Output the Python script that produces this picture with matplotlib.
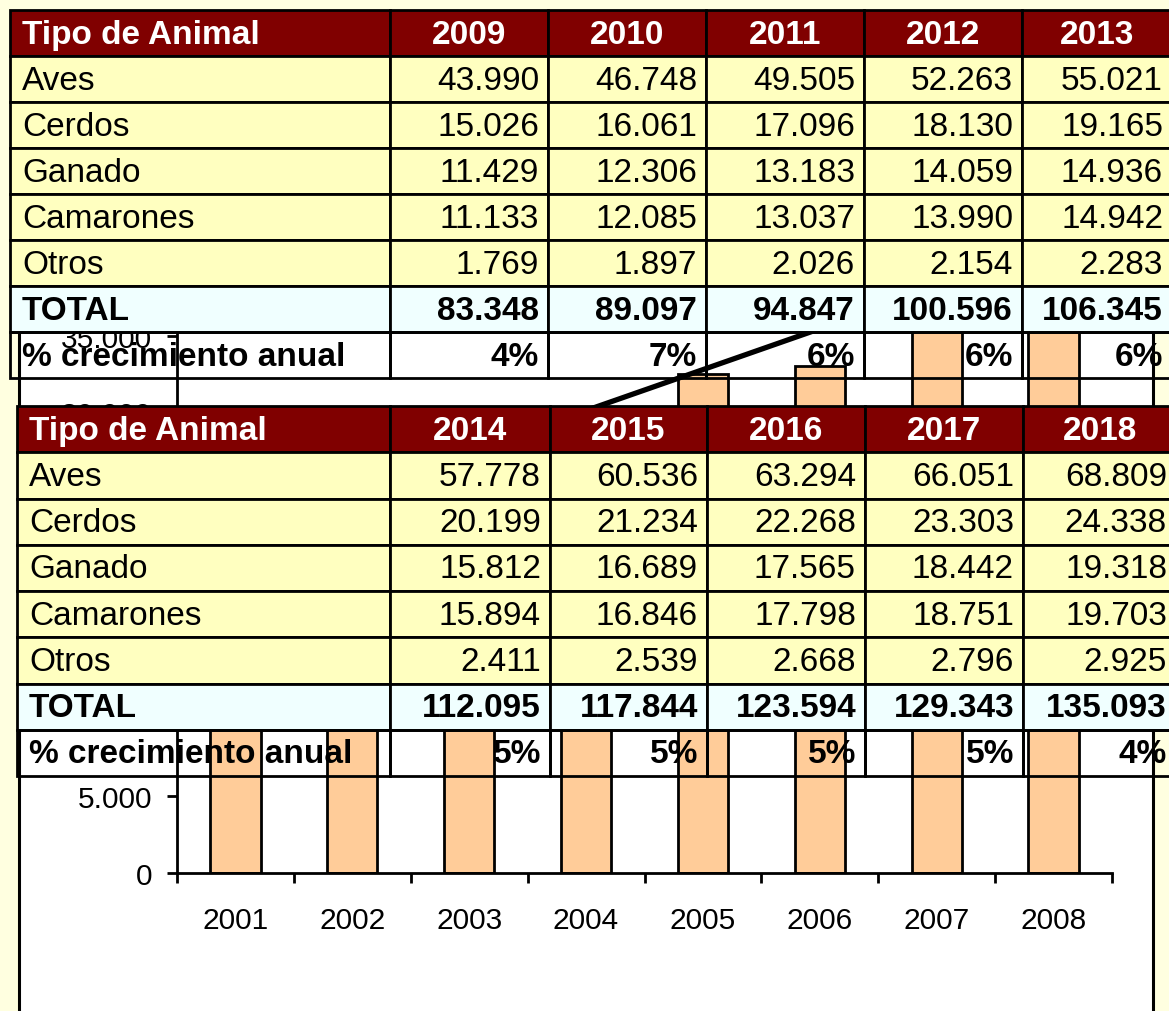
import numpy as np
import matplotlib
matplotlib.use('Agg')
import matplotlib.pyplot as plt
from matplotlib.patches import Rectangle
from matplotlib.ticker import FuncFormatter

plt.rcParams['font.family'] = ['Liberation Sans', 'DejaVu Sans']

# --- chart data (the bars are mostly hidden behind the two tables) ---
years = ['2001', '2002', '2003', '2004', '2005', '2006', '2007', '2008']
produccion = [24700, 25600, 26500, 27400, 32500, 33000, 37000, 45000]

# --- table data ---
animales = ['Aves', 'Cerdos', 'Ganado', 'Camarones', 'Otros']

anios_1 = ['2009', '2010', '2011', '2012', '2013']
aves_1 = [43990, 46748, 49505, 52263, 55021]
cerdos_1 = [15026, 16061, 17096, 18130, 19165]
ganado_1 = [11429, 12306, 13183, 14059, 14936]
camarones_1 = [11133, 12085, 13037, 13990, 14942]
otros_1 = [1769, 1897, 2026, 2154, 2283]
total_1 = [83348, 89097, 94847, 100596, 106345]
crec_1 = [4, 7, 6, 6, 6]

anios_2 = ['2014', '2015', '2016', '2017', '2018']
aves_2 = [57778, 60536, 63294, 66051, 68809]
cerdos_2 = [20199, 21234, 22268, 23303, 24338]
ganado_2 = [15812, 16689, 17565, 18442, 19318]
camarones_2 = [15894, 16846, 17798, 18751, 19703]
otros_2 = [2411, 2539, 2668, 2796, 2925]
total_2 = [112095, 117844, 123594, 129343, 135093]
crec_2 = [5, 5, 5, 5, 4]

W, H = 1169, 1012
BG = '#FFFFE0'
HEAD = '#800000'
ROW = '#FFFFC0'
TOT = '#F0FFFF'
FS = 24


def miles(v, pos=None):
    return f'{v:,.0f}'.replace(',', '.')


fig = plt.figure(figsize=(W / 100, H / 100), dpi=100, facecolor=BG)

# white chart box behind everything
bg = fig.add_axes([0, 0, 1, 1], zorder=0)
bg.set_xlim(0, W)
bg.set_ylim(H, 0)
bg.axis('off')
bg.add_patch(Rectangle((19, 200), 1153 - 19, 900, facecolor='white',
                       edgecolor='black', lw=2.2))

# bar chart
ax = fig.add_axes([177 / W, 1 - 874 / H, (1112 - 177) / W, (874 - 260) / H], zorder=1)
ax.patch.set_alpha(0)
x = np.arange(len(years))
ax.bar(x, produccion, width=0.43, color='#FFCC99', edgecolor='black', linewidth=2, zorder=2)
coef = np.polyfit(x, produccion, 1)  # linear trend line
ax.plot(x, np.polyval(coef, x), color='black', lw=3.8, zorder=3)
ax.set_xlim(-0.5, 7.5)
ax.set_ylim(0, 40000)
ax.set_yticks(range(0, 40001, 5000))
ax.yaxis.set_major_formatter(FuncFormatter(miles))
ax.set_xticks(np.arange(-0.5, 8, 1))
ax.set_xticklabels([])
ax.set_xticks(x, labels=years, minor=True)
ax.tick_params(axis='x', which='major', length=7, width=2, direction='out')
ax.tick_params(axis='x', which='minor', length=0, pad=24, labelsize=21.5)
ax.tick_params(axis='y', length=7, width=2, direction='out', pad=11, labelsize=21.5)
for s in ['top', 'right']:
    ax.spines[s].set_visible(False)
for s in ['left', 'bottom']:
    ax.spines[s].set_linewidth(2)

# tables on top
ov = fig.add_axes([0, 0, 1, 1], zorder=5)
ov.set_xlim(0, W)
ov.set_ylim(H, 0)
ov.axis('off')


def draw_table(xe, ye, anios, filas, total, crec):
    fills = [HEAD] + [ROW] * len(filas) + [TOT, 'none']
    for r in range(len(ye) - 1):
        for c in range(len(xe) - 1):
            ov.add_patch(Rectangle((xe[c], ye[r]), xe[c + 1] - xe[c], ye[r + 1] - ye[r],
                                   facecolor=fills[r], edgecolor='black', lw=2))
    mid = [(ye[r] + ye[r + 1]) / 2 + 1 for r in range(len(ye) - 1)]
    # header
    ov.text(xe[0] + 12, mid[0], 'Tipo de Animal', color='white', fontsize=FS,
            fontweight='bold', va='center')
    for c, a in enumerate(anios):
        ov.text((xe[c + 1] + xe[c + 2]) / 2, mid[0], a, color='white', fontsize=FS,
                fontweight='bold', va='center', ha='center')
    # animal rows
    for r, (nombre, vals) in enumerate(zip(animales, filas)):
        ov.text(xe[0] + 12, mid[r + 1], nombre, fontsize=FS, va='center')
        for c, v in enumerate(vals):
            ov.text(xe[c + 2] - 9, mid[r + 1], miles(v), fontsize=FS, va='center', ha='right')
    rt = len(filas) + 1
    ov.text(xe[0] + 12, mid[rt], 'TOTAL', fontsize=FS, fontweight='bold', va='center')
    for c, v in enumerate(total):
        ov.text(xe[c + 2] - 9, mid[rt], miles(v), fontsize=FS, fontweight='bold',
                va='center', ha='right')
    ov.text(xe[0] + 12, mid[rt + 1], '% crecimiento anual', fontsize=FS,
            fontweight='bold', va='center')
    for c, v in enumerate(crec):
        ov.text(xe[c + 2] - 9, mid[rt + 1], f'{v}%', fontsize=FS, fontweight='bold',
                va='center', ha='right')


draw_table([10, 390, 548, 706, 864, 1022, 1172], [11 + 46 * k for k in range(9)],
           anios_1, [aves_1, cerdos_1, ganado_1, camarones_1, otros_1], total_1, crec_1)
draw_table([17, 390, 550, 707, 865, 1023, 1176], [407 + 46.25 * k for k in range(9)],
           anios_2, [aves_2, cerdos_2, ganado_2, camarones_2, otros_2], total_2, crec_2)

fig.savefig('out.png', dpi=100, facecolor=BG)
